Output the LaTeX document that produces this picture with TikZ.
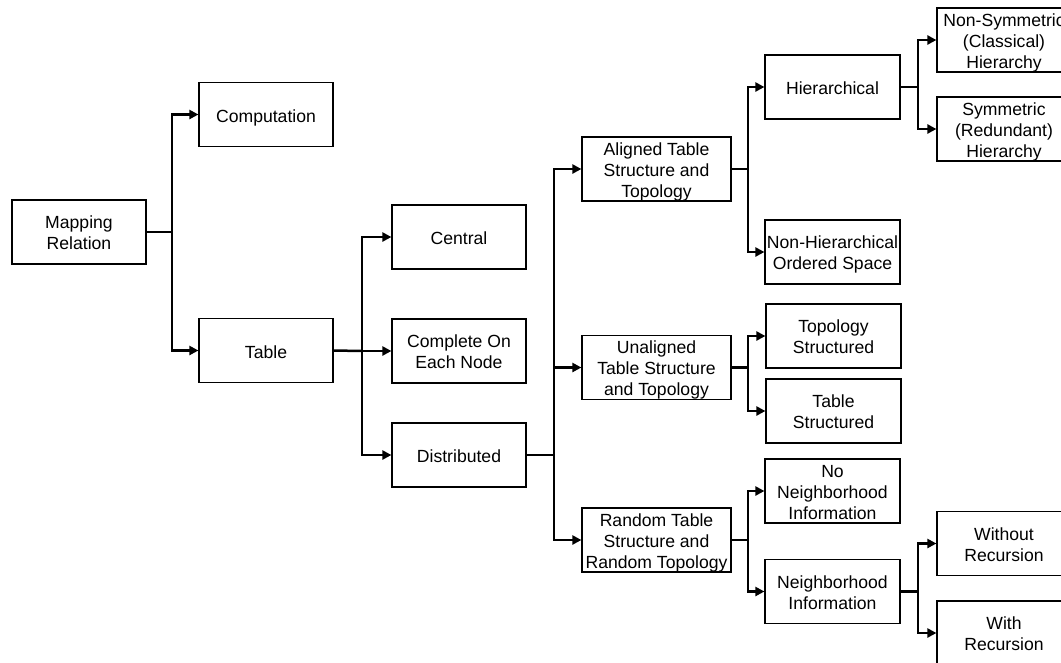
\documentclass[tikz,border=0pt]{standalone}
\usepackage{fontspec}
\setmainfont{Liberation Sans}
\usetikzlibrary{arrows.meta}
\begin{document}
\begin{tikzpicture}[x=1pt,y=-1pt,
  box/.style={draw,line width=1.2pt,minimum width=134pt,minimum height=64pt,inner sep=0pt,align=center,
    font=\fontsize{17.6}{21}\selectfont,text depth=0pt,text height=15.4pt},
  two/.style={text height=35pt},
  three/.style={text height=56.6pt},
  wbox/.style={box,minimum width=149pt},
  conn/.style={line width=2.5pt},
  arr/.style={conn,-{Triangle[length=9pt,width=9pt]}}]
\useasboundingbox (0,0) rectangle (1061,662);
\clip (0,0) rectangle (1061,662);
\fill[white] (0,0) rectangle (1061,662);
% column 1-3
\node[box,two] (mr) at (79,232) {Mapping\\Relation};
\node[box] (comp) at (266,114.5) {Computation};
\node[box] (table) at (266,350.5) {Table};
\node[box] (central) at (459,237) {Central};
\node[box,two] (complete) at (459,351) {Complete On\\Each Node};
\node[box] (dist) at (459,455) {Distributed};
% column 4
\node[wbox,three] (aligned) at (656.5,169) {Aligned Table\\Structure and\\Topology};
\node[wbox,three] (unaligned) at (656.5,367.5) {Unaligned\\Table Structure\\and Topology};
\node[wbox,three] (random) at (656.5,540) {Random Table\\Structure and\\Random Topology};
% column 5
\node[box,minimum width=135pt] (hier) at (832.5,87) {Hierarchical};
\node[box,two,minimum width=135pt] (nonhier) at (832.5,252) {Non-Hierarchical\\Ordered Space};
\node[box,two,minimum width=135pt] (topos) at (833.5,336) {Topology\\Structured};
\node[box,two,minimum width=135pt] (tables) at (833.5,411) {Table\\Structured};
\node[box,three,minimum width=135pt] (nonbr) at (832.5,491) {No\\Neighborhood\\Information};
\node[box,two,minimum width=135pt] (nbr) at (832.5,591.5) {Neighborhood\\Information};
% column 6
\node[box,three] (nonsym) at (1004,40) {Non-Symmetric\\(Classical)\\Hierarchy};
\node[box,three] (sym) at (1004,129) {Symmetric\\(Redundant)\\Hierarchy};
\node[box,two] (without) at (1004,543.5) {Without\\Recursion};
\node[box,two] (with) at (1004,633) {With\\Recursion};
% junctions
\coordinate (j1) at (172,232);
\coordinate (j2) at (362,351);
\coordinate (j3) at (554,455);
\coordinate (j4a) at (748,169);
\coordinate (j4b) at (748,367.5);
\coordinate (j4c) at (748,540);
\coordinate (j5a) at (918,87);
\coordinate (j5b) at (918,591.5);
% connectors
\draw[conn] (mr.east) -- (j1);
\draw[arr] (j1) |- (comp.west);
\draw[arr] (j1) |- (table.west);
\draw[conn] (table.east) -- (j2);
\draw[arr] (j2) |- (central.west);
\draw[arr] (j2) -- (complete.west);
\draw[arr] (j2) |- (dist.west);
\draw[conn] (dist.east) -- (j3);
\draw[arr] (j3) |- (aligned.west);
\draw[arr] (j3) |- (unaligned.west);
\draw[arr] (j3) |- (random.west);
\draw[conn] (aligned.east) -- (j4a);
\draw[arr] (j4a) |- (hier.west);
\draw[arr] (j4a) |- (nonhier.west);
\draw[conn] (unaligned.east) -- (j4b);
\draw[arr] (j4b) |- (topos.west);
\draw[arr] (j4b) |- (tables.west);
\draw[conn] (random.east) -- (j4c);
\draw[arr] (j4c) |- (nonbr.west);
\draw[arr] (j4c) |- (nbr.west);
\draw[conn] (hier.east) -- (j5a);
\draw[arr] (j5a) |- (nonsym.west);
\draw[arr] (j5a) |- (sym.west);
\draw[conn] (nbr.east) -- (j5b);
\draw[arr] (j5b) |- (without.west);
\draw[arr] (j5b) |- (with.west);
\end{tikzpicture}
\end{document}
